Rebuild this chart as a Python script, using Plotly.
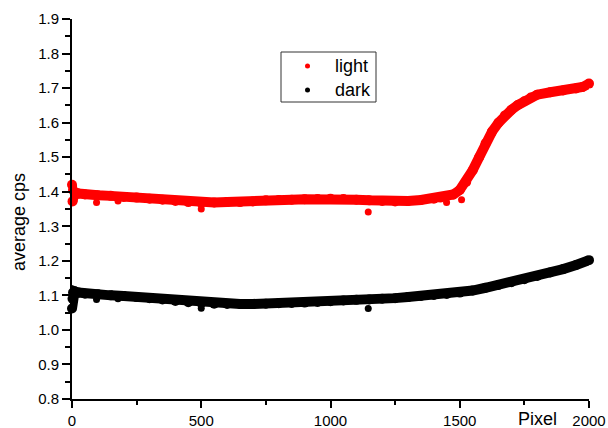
import plotly.graph_objects as go

# Averaged counts per detector pixel, light and dark exposures
light_pixel = [0, 2, 4, 10, 25, 50, 100, 150, 200, 250, 300, 350, 400, 450, 500,
               550, 600, 650, 700, 750, 800, 850, 900, 950, 1000, 1050, 1100, 1150,
               1200, 1250, 1300, 1350, 1400, 1425, 1450, 1475, 1500, 1525, 1550,
               1575, 1600, 1625, 1650, 1675, 1700, 1725, 1750, 1775, 1800, 1850,
               1900, 1950, 1975, 2000]
light_cps = [1.42, 1.372, 1.405, 1.398, 1.395, 1.392, 1.39, 1.388, 1.385, 1.383,
             1.38, 1.377, 1.373, 1.37, 1.368, 1.369, 1.37, 1.37, 1.372, 1.375,
             1.376, 1.377, 1.378, 1.379, 1.38, 1.379, 1.377, 1.375, 1.373, 1.372,
             1.373, 1.376, 1.38, 1.383, 1.387, 1.392, 1.405, 1.428, 1.462, 1.50,
             1.54, 1.574, 1.60, 1.621, 1.637, 1.651, 1.662, 1.673, 1.681, 1.688,
             1.693, 1.699, 1.703, 1.713]
light_out_pixel = [95, 178, 500, 1146, 1449, 1507]
light_out_cps = [1.369, 1.373, 1.35, 1.341, 1.369, 1.377]

dark_pixel = [0, 2, 4, 10, 25, 50, 100, 150, 200, 250, 300, 350, 400, 450, 500,
              550, 600, 650, 700, 750, 800, 850, 900, 950, 1000, 1050, 1100, 1150,
              1200, 1250, 1300, 1350, 1400, 1450, 1500, 1550, 1600, 1650, 1700,
              1750, 1800, 1850, 1900, 1950, 2000]
dark_cps = [1.062, 1.09, 1.108, 1.112, 1.108, 1.105, 1.103, 1.10, 1.098, 1.095,
            1.092, 1.088, 1.084, 1.08, 1.078, 1.076, 1.075, 1.075, 1.075, 1.076,
            1.077, 1.078, 1.079, 1.081, 1.083, 1.085, 1.087, 1.088, 1.09, 1.092,
            1.095, 1.098, 1.101, 1.104, 1.108, 1.114, 1.122, 1.13, 1.138, 1.147,
            1.156, 1.166, 1.176, 1.188, 1.202]
dark_out_pixel = [95, 178, 500, 1146]
dark_out_cps = [1.088, 1.09, 1.063, 1.062]

x_ticks = [0, 500, 1000, 1500, 2000]
y_ticks = [0.8, 0.9, 1.0, 1.1, 1.2, 1.3, 1.4, 1.5, 1.6, 1.7, 1.8, 1.9]
series_names = ["light", "dark"]

RED = "#ff0000"
BLACK = "#000000"
FONT = "Liberation Sans, Arial, sans-serif"

# plot box in page pixels, used to place the legend box and axis titles
W, H = 608, 428
L, R, T, B = 72, 19, 19, 29
PW, PH = W - L - R, H - T - B


def px_x(p):
    return (p - L) / PW


def px_y(p):
    return (H - B - p) / PH


fig = go.Figure()


def band(xs, ys, color):
    # dense point cloud drawn as a thick run of overlapping dots
    fig.add_trace(go.Scatter(
        x=xs, y=ys, mode="lines+markers",
        line=dict(color=color, width=10),
        marker=dict(color=color, size=10),
        showlegend=False, hoverinfo="x+y", cliponaxis=False))


def stray(xs, ys, color):
    fig.add_trace(go.Scatter(
        x=xs, y=ys, mode="markers",
        marker=dict(color=color, size=7),
        showlegend=False, cliponaxis=False))


band(light_pixel, light_cps, RED)
stray(light_out_pixel, light_out_cps, RED)
band(dark_pixel, dark_cps, BLACK)
stray(dark_out_pixel, dark_out_cps, BLACK)

axis_common = dict(
    showline=True, linecolor=BLACK, linewidth=2, mirror=False, automargin=False,
    showgrid=False, zeroline=False, ticks="outside", tickcolor=BLACK,
    tickwidth=1.5, tickfont=dict(family=FONT, size=15, color=BLACK),
)

fig.update_xaxes(
    range=[0, 2000], tickvals=x_ticks, ticklen=7,
    minor=dict(dtick=250, ticklen=4, tickwidth=1.5, tickcolor=BLACK, ticks="outside"),
    **axis_common)
fig.update_yaxes(
    range=[0.8, 1.9], tickvals=y_ticks, tickformat=".1f", ticklen=8,
    minor=dict(dtick=0.05, ticklen=5, tickwidth=1.5, tickcolor=BLACK, ticks="outside"),
    **axis_common)

# legend box with dot symbols
shapes = [dict(type="rect", xref="paper", yref="paper",
               x0=px_x(281), x1=px_x(376), y0=px_y(102), y1=px_y(52),
               line=dict(color="#333333", width=1), fillcolor="white", layer="above")]
annotations = []
for name, color, cy in zip(series_names, [RED, BLACK], [66, 90]):
    shapes.append(dict(type="circle", xref="paper", yref="paper",
                       x0=px_x(305), x1=px_x(310), y0=px_y(cy + 2.5), y1=px_y(cy - 2.5),
                       line=dict(color=color, width=0), fillcolor=color, layer="above"))
    annotations.append(dict(text=name, xref="paper", yref="paper",
                            x=px_x(333), y=px_y(cy), xanchor="left", yanchor="middle",
                            showarrow=False,
                            font=dict(family=FONT, size=18, color=BLACK)))

annotations += [
    dict(text="average cps", xref="paper", yref="paper",
         x=px_x(19), y=px_y(222), xanchor="center", yanchor="middle",
         textangle=-90, showarrow=False,
         font=dict(family=FONT, size=18, color=BLACK)),
    dict(text="Pixel", xref="paper", yref="paper",
         x=px_x(537), y=px_y(419), xanchor="center", yanchor="middle",
         showarrow=False,
         font=dict(family=FONT, size=18, color=BLACK)),
]

fig.update_layout(
    width=W, height=H,
    margin=dict(l=L, r=R, t=T, b=B),
    paper_bgcolor="white", plot_bgcolor="white",
    font=dict(family=FONT, color=BLACK),
    showlegend=False,
    shapes=shapes,
    annotations=annotations,
)

fig.write_html("out.html")
